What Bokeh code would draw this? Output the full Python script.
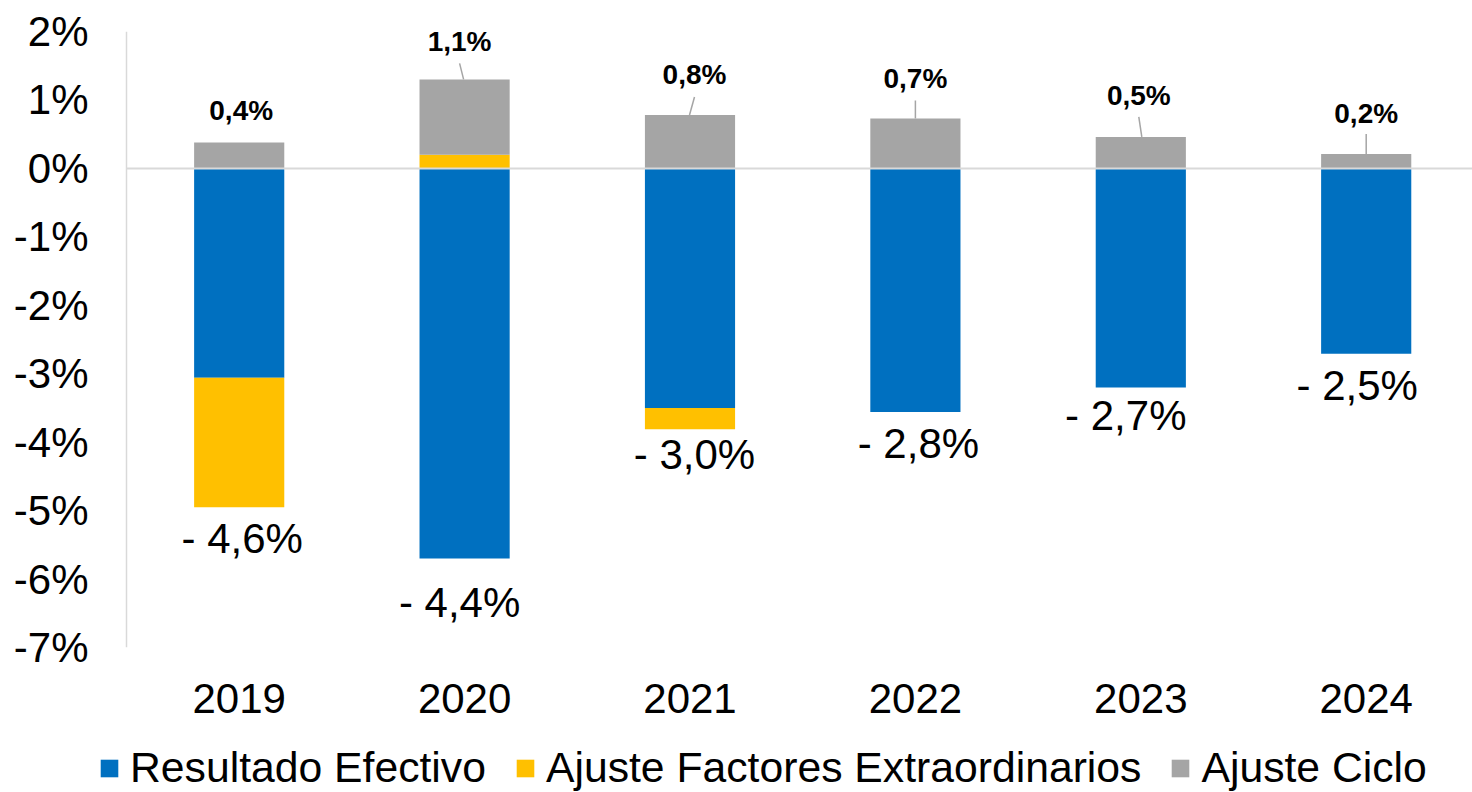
from bokeh.plotting import figure
from bokeh.layouts import column
from bokeh.models import (Range1d, FixedTicker, Span, Legend, LegendItem,
                          ColumnDataSource)
from bokeh.core.properties import value
from bokeh.embed import file_html
from bokeh.resources import INLINE

# ---------------- data ----------------
years = ["2019", "2020", "2021", "2022", "2023", "2024"]
efectivo = [-3.06, -5.70, -3.50, -3.56, -3.20, -2.71]
extraordinarios = [-1.89, 0.20, -0.31, 0.0, 0.0, 0.0]
ciclo = [0.38, 1.10, 0.78, 0.73, 0.46, 0.21]
total_labels = ["- 4,6%", "- 4,4%", "- 3,0%", "- 2,8%", "- 2,7%", "- 2,5%"]
ciclo_labels = ["0,4%", "1,1%", "0,8%", "0,7%", "0,5%", "0,2%"]
y_ticks = [-7, -6, -5, -4, -3, -2, -1, 0, 1, 2]
y_tick_labels = ["-7%", "-6%", "-5%", "-4%", "-3%", "-2%", "-1%", "0%", "1%", "2%"]
series_names = ["Resultado Efectivo", "Ajuste Factores Extraordinarios", "Ajuste Ciclo"]

# ---------------- layout / style ----------------
W = 1472
H_MAIN, H_LEG = 744, 48
ML, MR, MT, MB = 98, 0, 31, 97
AXIS_GAP = 28          # px between frame edge and the visible y axis line
FRAME_W = W - ML - MR
FRAME_H = H_MAIN - MT - MB
CAT_PX = 225.4
X_AXIS_POS = -0.5
XMIN = X_AXIS_POS - AXIS_GAP / CAT_PX
XMAX = XMIN + FRAME_W / CAT_PX
YMIN, YMAX = -7, 2
XPX = CAT_PX
YPX = FRAME_H / (YMAX - YMIN)

BLUE, YELLOW, GREY = "#0070C0", "#FFC000", "#A5A5A5"
LINE_GREY = "#D9D9D9"
FONT = "Liberation Sans"
BAR_W = 0.40

# label offsets in screen px
neg_dx = [3, -5, 4.5, 3, -15, -9]
neg_dy = [31, 44, 25, 31, 28, 32]
pos_dx = [2, -5, 4.5, 0, -2, 0]
pos_dy = [31.7, 38, 41, 40, 41, 41]
lead_len = [0, 16, 18, 18, 20, 20]
lead_dx0 = [0, -1, -0.5, 0, 1, 0]

x = list(range(len(years)))

# stacks
eff_bottom = efectivo
eff_top = [0.0] * len(x)
ex_bottom, ex_top, ci_bottom, ci_top = [], [], [], []
for e, xe, c in zip(efectivo, extraordinarios, ciclo):
    if xe < 0:
        ex_bottom.append(e + xe); ex_top.append(e)
        base = 0.0
    else:
        ex_bottom.append(0.0); ex_top.append(xe)
        base = xe
    ci_bottom.append(base); ci_top.append(base + c)

neg_end = [min(b, eb) for b, eb in zip(eff_bottom, ex_bottom)]

p = figure(width=W, height=H_MAIN, x_range=Range1d(XMIN, XMAX), y_range=Range1d(YMIN, YMAX),
           output_backend="svg", toolbar_location=None,
           min_border_left=ML, min_border_right=MR, min_border_top=MT, min_border_bottom=MB)
p.outline_line_color = None
p.xgrid.visible = False
p.ygrid.visible = False
p.background_fill_color = "white"
p.border_fill_color = "white"

r_eff = p.vbar(x=x, width=BAR_W, bottom=eff_bottom, top=eff_top, fill_color=BLUE, line_color=None)
r_ex = p.vbar(x=x, width=BAR_W, bottom=ex_bottom, top=ex_top, fill_color=YELLOW, line_color=None)
r_ci = p.vbar(x=x, width=BAR_W, bottom=ci_bottom, top=ci_top, fill_color=GREY, line_color=None)

# visible y axis line and zero line
p.add_layout(Span(location=X_AXIS_POS, dimension="height", line_color=LINE_GREY, line_width=1.5))
p.segment(x0=[X_AXIS_POS], y0=[0], x1=[XMAX], y1=[0], line_color=LINE_GREY, line_width=2)

# negative total labels
neg_src = ColumnDataSource(dict(
    x=[i + dx / XPX for i, dx in zip(x, neg_dx)],
    y=[v - dy / YPX for v, dy in zip(neg_end, neg_dy)],
    t=total_labels))
p.text(x="x", y="y", text="t", source=neg_src, text_align="center", text_baseline="alphabetic",
       text_font=value(FONT), text_font_size="42px", text_color="black")

# positive ciclo labels
pos_src = ColumnDataSource(dict(
    x=[i + dx / XPX for i, dx in zip(x, pos_dx)],
    y=[v + dy / YPX for v, dy in zip(ci_top, pos_dy)],
    t=ciclo_labels))
p.text(x="x", y="y", text="t", source=pos_src, text_align="center", text_baseline="alphabetic",
       text_font=value(FONT), text_font_size="28px", text_font_style="bold", text_color="black")

# leader lines
lx0, ly0, lx1, ly1 = [], [], [], []
for i, top, L, d0, d1 in zip(x, ci_top, lead_len, lead_dx0, pos_dx):
    if L > 0:
        lx0.append(i + d0 / XPX); ly0.append(top)
        lx1.append(i + d1 / XPX); ly1.append(top + L / YPX)
p.segment(x0=lx0, y0=ly0, x1=lx1, y1=ly1, line_color="#A5A5A5", line_width=1.5)

# axes
p.xaxis.ticker = FixedTicker(ticks=x)
p.xaxis.major_label_overrides = {i: y for i, y in zip(x, years)}
p.xaxis.axis_line_color = None
p.xaxis.major_tick_line_color = None
p.xaxis.minor_tick_line_color = None
p.xaxis.major_tick_out = 0
p.xaxis.major_tick_in = 0
p.xaxis.major_label_standoff = 36
p.xaxis.major_label_text_font = FONT
p.xaxis.major_label_text_font_size = "42px"
p.xaxis.major_label_text_color = "black"

p.yaxis.ticker = FixedTicker(ticks=y_ticks)
p.yaxis.major_label_overrides = {t: l for t, l in zip(y_ticks, y_tick_labels)}
p.yaxis.axis_line_color = None
p.yaxis.major_tick_line_color = None
p.yaxis.minor_tick_line_color = None
p.yaxis.major_tick_out = 0
p.yaxis.major_tick_in = 0
p.yaxis.major_label_standoff = 10
p.yaxis.major_label_text_font = FONT
p.yaxis.major_label_text_font_size = "42px"
p.yaxis.major_label_text_color = "black"

# ---------------- legend strip ----------------
pl = figure(width=W, height=H_LEG, x_range=Range1d(XMIN, XMAX), y_range=Range1d(100, 101),
            output_backend="svg", toolbar_location=None,
            x_axis_location=None, y_axis_location=None,
            min_border_left=ML, min_border_right=0, min_border_top=0, min_border_bottom=0)
pl.outline_line_color = None
pl.xgrid.visible = False
pl.ygrid.visible = False
pl.background_fill_color = "white"
pl.border_fill_color = "white"
# same series, outside the strip's visible range: only their legend swatches show
l_eff = pl.vbar(x=x, width=BAR_W, bottom=eff_bottom, top=eff_top, fill_color=BLUE, line_color=None)
l_ex = pl.vbar(x=x, width=BAR_W, bottom=ex_bottom, top=ex_top, fill_color=YELLOW, line_color=None)
l_ci = pl.vbar(x=x, width=BAR_W, bottom=ci_bottom, top=ci_top, fill_color=GREY, line_color=None)

legend = Legend(items=[LegendItem(label=series_names[0], renderers=[l_eff]),
                       LegendItem(label=series_names[1], renderers=[l_ex]),
                       LegendItem(label=series_names[2], renderers=[l_ci])],
                location=(0, 0), orientation="horizontal",
                glyph_width=22, glyph_height=22, label_standoff=10, spacing=28,
                padding=0, margin=0, border_line_color=None, background_fill_alpha=0,
                label_text_font=FONT, label_text_font_size="42.7px", label_text_color="black")
pl.add_layout(legend, "center")

layout = column(p, pl, spacing=0)
open("out.html", "w").write(file_html(layout, INLINE))
